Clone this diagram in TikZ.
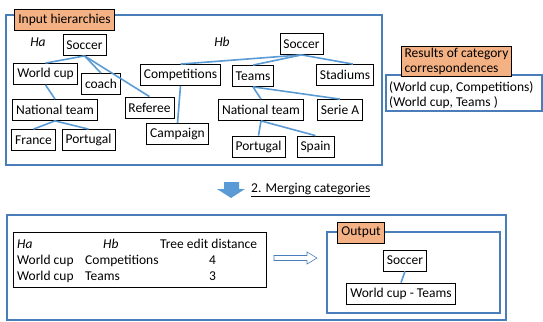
\documentclass[tikz,border=0pt]{standalone}
\usepackage{fontspec}
\setmainfont{Carlito}
\usetikzlibrary{positioning}
\definecolor{boxblue}{HTML}{4A7EBB}
\definecolor{linkblue}{HTML}{5B9BD5}
\definecolor{tagorange}{HTML}{F4B183}
\tikzset{
  cat/.style={draw=black, fill=white, line width=0.8pt, minimum height=21pt, inner xsep=3.5pt, font=\fontsize{13.5}{15}\selectfont},
  tag/.style={cat, fill=tagorange},
  link/.style={draw=linkblue, line width=1.6pt},
  frame/.style={draw=boxblue, line width=1.2pt},
  txt/.style={inner sep=0pt, font=\fontsize{13.5}{15}\selectfont},
}
\begin{document}
\begin{tikzpicture}[x=1pt, y=-1pt]
  \useasboundingbox (0,0) rectangle (543,321);

  % input hierarchies
  \draw[frame] (6,15) rectangle (382,165);
  \node[tag] (inp) at (64.5,19.5) {Input hierarchies};

  \node[txt, font=\fontsize{13.5}{15}\selectfont\itshape] (ha) at (38,42) {Ha};
  \node[cat] (sa) at (84.5,45) {Soccer};
  \node[cat] (wc) at (45.5,74) {World cup};
  \node[cat] (co) at (101,84) {coach};
  \node[cat] (nta) at (55,110) {National team};
  \node[cat] (fr) at (33.5,140) {France};
  \node[cat] (pta) at (88.5,140) {Portugal};
  \node[cat] (re) at (149.5,107.5) {Referee};

  \node[txt, font=\fontsize{13.5}{15}\selectfont\itshape] (hb) at (222,42) {Hb};
  \node[cat] (sb) at (301.5,44) {Soccer};
  \node[cat] (cm) at (180.5,75) {Competitions};
  \node[cat] (ca) at (177.5,134) {Campaign};
  \node[cat] (te) at (253,76) {Teams};
  \node[cat] (st) at (345,75) {Stadiums};
  \node[cat] (ntb) at (261,110) {National team};
  \node[cat] (se) at (340,110) {Serie A};
  \node[cat] (ptb) at (258.5,146.5) {Portugal};
  \node[cat] (sp) at (315.5,146.5) {Spain};

  \draw[link] (sa.south) -- (wc.north);
  \draw[link] (sa.south) -- (co.north);
  \draw[link] (sa.south) -- (re.north);
  \draw[link] (wc.south) -- (nta.north);
  \draw[link] (nta.south) -- (fr.north);
  \draw[link] (nta.south) -- (pta.north);
  \draw[link] (sb.south) -- (cm.north);
  \draw[link] (sb.south) -- (te.north);
  \draw[link] (sb.south) -- ([xshift=8pt]st.north);
  \draw[link] (cm.south) -- (ca.north);
  \draw[link] (te.south) -- (ntb.north);
  \draw[link] (te.south) -- (se.north);
  \draw[link] (ntb.south) -- (ptb.north);
  \draw[link] (ntb.south) -- (sp.north);

  % correspondences
  \draw[frame] (386,75) rectangle (542,111);
  \node[tag, align=left, inner ysep=2pt] (res) at (456.5,61.5) {Results of category\\correspondences};
  \node[txt, anchor=west] (r1) at (389,87.5) {(World cup, Competitions)};
  \node[txt, anchor=west] (r2) at (389,102.5) {(World cup, Teams )};

  % merging step
  \fill[linkblue] (224,182) -- (239,182) -- (239,189) -- (245,189) -- (231,198)
    -- (217,189) -- (224,189) -- cycle;
  \node[txt, anchor=west] (mg) at (251,190) {\underline{2. Merging categories}};

  % merging result
  \draw[frame] (7,215) rectangle (506,320);
  \draw[black, line width=0.8pt] (13,232) rectangle (266,287);
  \node[txt, anchor=base west, font=\fontsize{13.5}{15}\selectfont\itshape] (tha) at (17,248) {Ha};
  \node[txt, anchor=base west, font=\fontsize{13.5}{15}\selectfont\itshape] (thb) at (103,248) {Hb};
  \node[txt, anchor=base west] (tdist) at (160,248) {Tree edit distance};
  \node[txt, anchor=base west] (w1) at (17,264) {World cup};
  \node[txt, anchor=base west] (c1) at (85,264) {Competitions};
  \node[txt, anchor=base west] (d1) at (209,264) {4};
  \node[txt, anchor=base west] (w2) at (17,280) {World cup};
  \node[txt, anchor=base west] (c2) at (85,280) {Teams};
  \node[txt, anchor=base west] (d2) at (209,280) {3};

  \draw[boxblue, line width=0.6pt, fill=white] (274,255.5) -- (307,255.5) -- (307,252)
    -- (317,258) -- (307,264) -- (307,260.5) -- (274,260.5) -- cycle;

  \draw[frame] (327,232) rectangle (500,313);
  \node[tag] (out) at (361,232.5) {Output};
  \node[cat] (so) at (405,260.5) {Soccer};
  \node[cat] (wt) at (401,293.5) {World cup - Teams};
  \draw[link] (so.south) -- (wt.north);
\end{tikzpicture}
\end{document}
